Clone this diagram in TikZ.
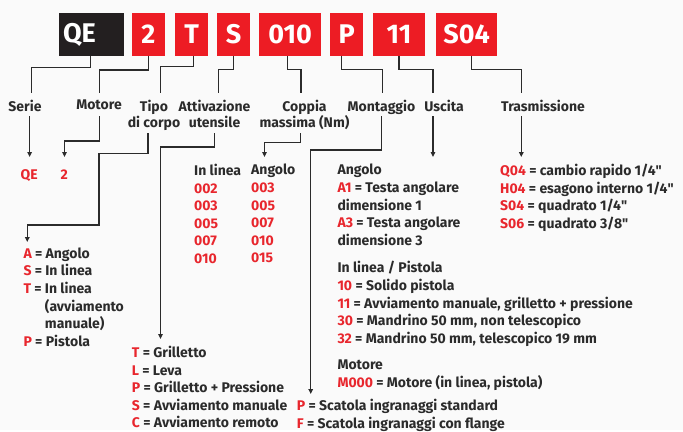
\documentclass[tikz,border=0pt]{standalone}
\usepackage{fontspec}
\setmainfont{Fira Sans}
\usepackage{tikz}
\usetikzlibrary{arrows.meta, positioning}
\definecolor{codered}{HTML}{ED1C24}
\definecolor{textred}{HTML}{E8262D}
\definecolor{codeblack}{HTML}{231F20}
\definecolor{inkgray}{HTML}{2B2B2B}
\newcommand{\cd}[1]{\textcolor{textred}{#1}}
\newcommand{\inch}{\textquotedbl}

\begin{document}
\begin{tikzpicture}[x=1pt, y=-1pt, >={Triangle[length=5pt, width=4.5pt]},
    codebox/.style={fill=codered, text=white, inner sep=0pt,
      minimum height=42.4pt, font=\fontsize{27}{27}\selectfont\bfseries},
    tag/.style={text=inkgray, align=center, inner sep=0pt,
      font=\fontsize{14}{16}\selectfont\bfseries},
    entries/.style={text=inkgray, align=left, anchor=north west, inner sep=0pt,
      font=\fontsize{14}{17.6}\selectfont\bfseries},
    conn/.style={draw=inkgray, line width=1.3pt}]

  % background and page size
  \fill[white!98!black] (0,0) rectangle (683,430);

  % Code boxes
  \node[codebox, fill=codeblack, minimum width=65.3pt, text width=57pt,
    align=left] (bQE) at (91.5,34.5) {QE};
  \node[codebox, minimum width=33.6pt] (b2)   at (148.3,34.5) {2};
  \node[codebox, minimum width=33.1pt] (bT)   at (191.7,34.5) {T};
  \node[codebox, minimum width=33.1pt] (bS)   at (233.5,34.5) {S};
  \node[codebox, minimum width=61.8pt] (b010) at (290.1,34.5) {010};
  \node[codebox, minimum width=33.1pt] (bP)   at (346.8,34.5) {P};
  \node[codebox, minimum width=52.3pt] (b11)  at (399.0,34.5) {11};
  \node[codebox, minimum width=61.4pt] (bS04) at (466.7,34.5) {S04};

  % Field names
  \node[tag, anchor=north] (lSerie)   at (25,99.5)    {Serie};
  \node[tag, anchor=north] (lMotore)  at (99,99.5)    {Motore};
  \node[tag, anchor=north] (lTipo)    at (154,99.5)   {Tipo\\di corpo};
  \node[tag, anchor=north] (lAttiv)   at (214.5,99.5) {Attivazione\\utensile};
  \node[tag, anchor=north] (lCoppia)  at (304.5,99.5) {Coppia\\massima (Nm)};
  \node[tag, anchor=north] (lMontag)  at (381.5,99.5) {Montaggio};
  \node[tag, anchor=north] (lUscita)  at (444,99.5)   {Uscita};
  \node[tag, anchor=north] (lTrasm)   at (543,99.5)   {Trasmissione};

  % Box to field name
  \draw[conn] (bQE.south -| 90.6,0) |- (31.8,67.7) -- (31.8,93);
  \draw[conn] (b2.south) |- (99.3,70) -- (99.3,93);
  \draw[conn] ([xshift=2pt]bT.south) |- (160.7,66.7) -- (160.7,93);
  \draw[conn] (bS.south) |- (218.6,69.3) -- (218.6,93);
  \draw[conn] ([xshift=-2.6pt]b010.south) |- (301,69.3) -- (301,93);
  \draw[conn] ([xshift=-5.3pt]bP.south) |- (382.4,69.3) -- (382.4,93);
  \draw[conn] (b11.south) |- (433,69.3) -- (433,93);
  \draw[conn] ([xshift=5pt]bS04.south) |- (521.3,69.3) -- (521.3,93);

  % Values
  \node[entries, text=textred] (vSerie) at (20.5,169.5) {QE};
  \node[entries, text=textred] (vMotore) at (60.5,169.5) {2};

  \node[entries] (vTipo) at (23.3,247.5) {%
    \cd{A} = Angolo\\
    \cd{S} = In linea\\
    \cd{T} = In linea\\
    \phantom{T = }(avviamento\\
    \phantom{T = }manuale)\\
    \cd{P} = Pistola};

  \node[entries] (vAttiv) at (131.7,346) {%
    \cd{T} = Grilletto\\
    \cd{L} = Leva\\
    \cd{P} = Grilletto + Pressione\\
    \cd{S} = Avviamento manuale\\
    \cd{C} = Avviamento remoto};

  \node[entries] (vCoppiaA) at (194,164) {%
    In linea\\ \cd{002}\\ \cd{003}\\ \cd{005}\\ \cd{007}\\ \cd{010}};
  \node[entries] (vCoppiaB) at (251,164) {%
    Angolo\\ \cd{003}\\ \cd{005}\\ \cd{007}\\ \cd{010}\\ \cd{015}};

  \node[entries] (vUscita) at (337.3,164) {%
    Angolo\\
    \cd{A1} = Testa angolare\\
    dimensione 1\\
    \cd{A3} = Testa angolare\\
    dimensione 3\\[10pt]
    In linea / Pistola\\
    \cd{10} = Solido pistola\\
    \cd{11} = Avviamento manuale, grilletto + pressione\\
    \cd{30} = Mandrino 50 mm, non telescopico\\
    \cd{32} = Mandrino 50 mm, telescopico 19 mm\\[9pt]
    Motore\\
    \cd{M000} = Motore (in linea, pistola)};

  \node[entries] (vMontag) at (296.7,399.3) {%
    \cd{P} = Scatola ingranaggi standard\\
    \cd{F} = Scatola ingranaggi con flange};

  \node[entries] (vTrasm) at (500,164) {%
    \cd{Q04} = cambio rapido 1/4\inch\\
    \cd{H04} = esagono interno 1/4\inch\\
    \cd{S04} = quadrato 1/4\inch\\
    \cd{S06} = quadrato 3/8\inch};

  % Field name to values
  \draw[conn, ->] (29.6,116) -- (29.6,157);
  \draw[conn, ->] (99.3,116) |- (64.5,141) -- (64.5,157);
  \draw[conn, ->] (148,133) |- (99,153.3) |- (27.3,225) -- (27.3,242);
  \draw[conn, ->] (214.3,133) |- (160.5,147) -- (160.5,339);
  \draw[conn, ->] (300.5,133) |- (264.5,142.5) -- (264.5,157);
  \draw[conn, ->] (381.5,116) |- (310.7,150) -- (310.7,394);
  \draw[conn, ->] (433,116) -- (433,157);
  \draw[conn, ->] (521.3,116) -- (521.3,157);

\end{tikzpicture}
\end{document}
